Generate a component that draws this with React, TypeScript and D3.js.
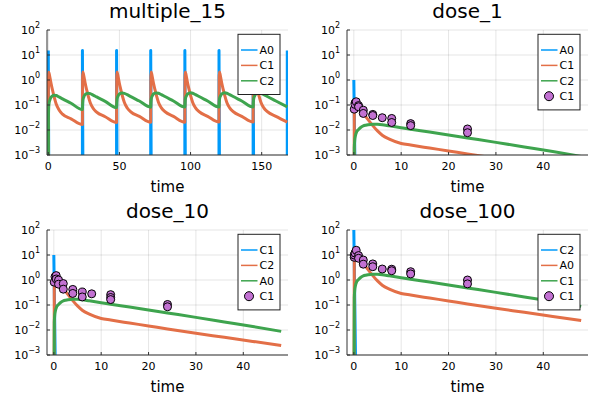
import React, { FC } from 'react'
import * as d3 from 'd3'

const BLUE = '#009AFA'
const ORANGE = '#E36F47'
const GREEN = '#3EA44E'
const PURPLE = '#C271D2'
const FONT = 'DejaVu Sans'

// y axis: decades from 10^-3 to 10^2
const yExponents = [2, 1, 0, -1, -2, -3]
const multiTicks = [0, 50, 100, 150]
const doseTicks = [0, 10, 20, 30, 40]

// ---- multiple_15 ----
const multiA0Time = [
	0, 0.07, 0.14, 0.21, 0.28, 0.35,
	23.99, 24, 24.07, 24.14, 24.21, 24.28, 24.35,
	47.99, 48, 48.07, 48.14, 48.21, 48.28, 48.35,
	71.99, 72, 72.07, 72.14, 72.21, 72.28, 72.35,
	95.99, 96, 96.07, 96.14, 96.21, 96.28, 96.35,
	119.99, 120, 120.07, 120.14, 120.21, 120.28, 120.35,
	143.99, 144, 144.07, 144.14, 144.21, 144.28, 144.35,
	167.99, 168
]
const multiA0 = [
	15, 1.5, 0.15, 0.015, 0.0015, 0.00015,
	1e-9, 15, 1.5, 0.15, 0.015, 0.0015, 0.00015,
	1e-9, 15, 1.5, 0.15, 0.015, 0.0015, 0.00015,
	1e-9, 15, 1.5, 0.15, 0.015, 0.0015, 0.00015,
	1e-9, 15, 1.5, 0.15, 0.015, 0.0015, 0.00015,
	1e-9, 15, 1.5, 0.15, 0.015, 0.0015, 0.00015,
	1e-9, 15, 1.5, 0.15, 0.015, 0.0015, 0.00015,
	1e-9, 15
]
const multiTime = [
	0, 0.1, 0.3, 0.6, 1, 1.5, 2, 3, 4, 5.5, 7.5, 10, 16, 24,
	24.1, 24.3, 24.6, 25, 25.5, 26, 27, 28, 29.5, 31.5, 34, 40, 48,
	48.1, 48.3, 48.6, 49, 49.5, 50, 51, 52, 53.5, 55.5, 58, 64, 72,
	72.1, 72.3, 72.6, 73, 73.5, 74, 75, 76, 77.5, 79.5, 82, 88, 96,
	96.1, 96.3, 96.6, 97, 97.5, 98, 99, 100, 101.5, 103.5, 106, 112, 120,
	120.1, 120.3, 120.6, 121, 121.5, 122, 123, 124, 125.5, 127.5, 130, 136, 144,
	144.1, 144.3, 144.6, 145, 145.5, 146, 147, 148, 149.5, 151.5, 154, 160, 168
]
const multiC1 = [
	1e-9, 1.2, 2.05, 1.8, 1.42, 0.99, 0.7, 0.39, 0.225, 0.112, 0.064, 0.043, 0.028, 0.0165,
	1.22, 2.07, 1.82, 1.44, 1.01, 0.715, 0.4, 0.237, 0.124, 0.074, 0.052, 0.034, 0.0199,
	1.22, 2.07, 1.82, 1.44, 1.01, 0.72, 0.41, 0.24, 0.126, 0.076, 0.053, 0.035, 0.0204,
	1.22, 2.07, 1.82, 1.44, 1.01, 0.72, 0.41, 0.241, 0.127, 0.077, 0.054, 0.035, 0.0206,
	1.22, 2.07, 1.82, 1.44, 1.01, 0.72, 0.41, 0.241, 0.127, 0.077, 0.054, 0.035, 0.0207,
	1.22, 2.07, 1.82, 1.44, 1.01, 0.72, 0.41, 0.241, 0.127, 0.077, 0.054, 0.035, 0.0207,
	1.22, 2.07, 1.82, 1.44, 1.01, 0.72, 0.41, 0.241, 0.127, 0.077, 0.054, 0.035, 0.0208
]
const multiC2 = [
	1e-9, 0.03, 0.08, 0.122, 0.15, 0.183, 0.207, 0.232, 0.243, 0.238, 0.21, 0.176, 0.117, 0.066,
	0.096, 0.145, 0.185, 0.212, 0.243, 0.265, 0.286, 0.294, 0.284, 0.25, 0.21, 0.14, 0.079,
	0.109, 0.158, 0.198, 0.224, 0.255, 0.277, 0.297, 0.303, 0.293, 0.258, 0.216, 0.144, 0.082,
	0.111, 0.16, 0.2, 0.226, 0.257, 0.279, 0.299, 0.305, 0.295, 0.26, 0.218, 0.145, 0.083,
	0.112, 0.161, 0.201, 0.227, 0.258, 0.279, 0.3, 0.306, 0.295, 0.26, 0.218, 0.145, 0.083,
	0.112, 0.161, 0.201, 0.227, 0.258, 0.279, 0.3, 0.306, 0.295, 0.26, 0.218, 0.145, 0.083,
	0.112, 0.161, 0.201, 0.227, 0.258, 0.279, 0.3, 0.306, 0.295, 0.26, 0.218, 0.145, 0.084
]

// ---- single doses ----
const spikeTime = [0, 0.07, 0.14, 0.21, 0.28, 0.35, 0.42, 0.49, 48]
const dose1Spike = [1, 0.1, 0.01, 0.001, 1e-4, 1e-5, 1e-6, 1e-7, 1e-20]
const dose10Spike = [10, 1, 0.1, 0.01, 0.001, 1e-4, 1e-5, 1e-6, 1e-20]
const dose100Spike = [100, 10, 1, 0.1, 0.01, 0.001, 1e-4, 1e-5, 1e-20]

const doseTime = [0, 0.1, 0.2, 0.35, 0.6, 1, 1.5, 2, 2.5, 3, 4, 5, 6, 7.5, 10, 12, 16, 20, 24, 30, 36, 42, 48]
const dose1Fast = [1e-10, 0.08, 0.12, 0.14, 0.125, 0.095, 0.066, 0.047, 0.034, 0.026, 0.015, 0.0092, 0.0062, 0.0043, 0.0029, 0.0025, 0.0019, 0.00145, 0.0011, 0.00074, 0.00051, 0.00035, 0.00024]
const dose1Slow = [1e-10, 0.002, 0.004, 0.006, 0.0085, 0.0105, 0.0128, 0.0145, 0.0155, 0.0162, 0.017, 0.0169, 0.0163, 0.0147, 0.0124, 0.0108, 0.0083, 0.0063, 0.0048, 0.0032, 0.0021, 0.00138, 0.00088]
const dose10Fast = [1e-9, 0.8, 1.2, 1.4, 1.25, 0.95, 0.66, 0.47, 0.34, 0.26, 0.15, 0.092, 0.062, 0.043, 0.029, 0.025, 0.019, 0.0145, 0.011, 0.0074, 0.0051, 0.0035, 0.0024]
const dose10Slow = [1e-9, 0.02, 0.04, 0.06, 0.085, 0.105, 0.128, 0.145, 0.155, 0.162, 0.17, 0.169, 0.163, 0.147, 0.124, 0.108, 0.083, 0.063, 0.048, 0.032, 0.021, 0.0138, 0.0088]
const dose100Fast = [1e-8, 8, 12, 14, 12.5, 9.5, 6.6, 4.7, 3.4, 2.6, 1.5, 0.92, 0.62, 0.43, 0.29, 0.25, 0.19, 0.145, 0.11, 0.074, 0.051, 0.035, 0.024]
const dose100Slow = [1e-8, 0.2, 0.4, 0.6, 0.85, 1.05, 1.28, 1.45, 1.55, 1.62, 1.7, 1.69, 1.63, 1.47, 1.24, 1.08, 0.83, 0.63, 0.48, 0.32, 0.21, 0.138, 0.088]

// observations
const obs1Time = [0.08, 0.25, 0.25, 0.5, 1, 1, 2, 2, 4, 4, 6, 8, 8, 12, 12, 24, 24]
const obs1 = [0.068, 0.12, 0.105, 0.135, 0.095, 0.085, 0.062, 0.046, 0.042, 0.038, 0.031, 0.029, 0.02, 0.018, 0.015, 0.011, 0.0078]
const obs10Time = [0.08, 0.25, 0.5, 0.5, 1, 1, 2, 2, 4, 4, 6, 6, 8, 12, 12, 12, 24, 24]
const obs10 = [0.82, 1.35, 1.5, 1.1, 1.0, 0.68, 0.72, 0.43, 0.42, 0.29, 0.33, 0.21, 0.28, 0.26, 0.2, 0.165, 0.105, 0.085]
const obs100Time = [0.08, 0.08, 0.25, 0.5, 1, 1, 2, 2, 4, 4, 6, 8, 8, 12, 12, 24, 24]
const obs100 = [8.1, 10, 12, 15.5, 9.5, 7.4, 6.3, 4.3, 4.4, 3.4, 2.75, 2.7, 2.35, 2.15, 1.75, 1.0, 0.7]

interface ISeries {
	t: number[]
	v: number[]
	color: string
	smooth?: boolean
}

interface ILegend {
	label: string
	color: string
	dot?: boolean
}

interface IPanelProps {
	id: string
	left: number
	top: number
	title: string
	xDomain: [number, number]
	xTicks: number[]
	lines: ISeries[]
	obs?: { t: number[]; v: number[] }
	legend: ILegend[]
}

const W = 241
const H = 125

const Panel: FC<IPanelProps> = ({ id, left, top, title, xDomain, xTicks, lines, obs, legend }) => {
	const x = d3.scaleLinear().domain(xDomain).range([0, W])
	const y = d3.scaleLog().domain([1e-3, 1e2]).range([H, 0])
	const lx = W - 50
	const lh = 14 + legend.length * 15.4

	return (
		<g transform={`translate(${left},${top})`}>
			<defs>
				<clipPath id={id}>
					<rect x={0} y={0} width={W} height={H} />
				</clipPath>
			</defs>
			{/* grid */}
			{yExponents.map((e) => (
				<line key={'gy' + e} x1={0} x2={W} y1={y(10 ** e)} y2={y(10 ** e)} stroke="#000" strokeOpacity={0.1} />
			))}
			{xTicks.map((t) => (
				<line key={'gx' + t} x1={x(t)} x2={x(t)} y1={0} y2={H} stroke="#000" strokeOpacity={0.1} />
			))}
			{/* lines */}
			<g clipPath={`url(#${id})`}>
				{lines.map((s, k) => {
					const gen = d3
						.line<number>()
						.x((_, i) => x(s.t[i]))
						.y((d) => y(d))
						.curve(s.smooth ? d3.curveMonotoneX : d3.curveLinear)
					return <path key={k} d={gen(s.v) || ''} fill="none" stroke={s.color} strokeWidth={3} strokeLinejoin="round" />
				})}
			</g>
			{obs &&
				obs.v.map((v, i) => (
					<circle key={'o' + i} cx={x(obs.t[i])} cy={y(v)} r={4} fill={PURPLE} stroke="#000" strokeWidth={1} />
				))}
			{/* axes */}
			<line x1={0} x2={0} y1={0} y2={H} stroke="#333" />
			<line x1={0} x2={W} y1={H} y2={H} stroke="#333" />
			{yExponents.map((e) => (
				<g key={'ty' + e}>
					<line x1={0} x2={3} y1={y(10 ** e)} y2={y(10 ** e)} stroke="#333" />
					<text x={-7} y={y(10 ** e) + 4} textAnchor="end" fontSize={11} fontFamily={FONT}>
						10
						<tspan dy={-6} fontSize={8}>
							{e < 0 ? '\u2212' + -e : e}
						</tspan>
					</text>
				</g>
			))}
			{xTicks.map((t) => (
				<g key={'tx' + t}>
					<line x1={x(t)} x2={x(t)} y1={H} y2={H - 3} stroke="#333" />
					<text x={x(t)} y={H + 15} textAnchor="middle" fontSize={11} fontFamily={FONT}>
						{t}
					</text>
				</g>
			))}
			<text x={W / 2} y={-12} textAnchor="middle" fontSize={20} fontFamily={FONT}>
				{title}
			</text>
			<text x={W / 2} y={H + 37} textAnchor="middle" fontSize={15} fontFamily={FONT}>
				time
			</text>
			{/* legend */}
			<rect x={lx} y={4.3} width={42} height={lh} fill="#fff" stroke="#222" />
			{legend.map((l, i) => {
				const ly = 20 + i * 15.4
				return (
					<g key={'l' + i}>
						{l.dot ? (
							<circle cx={lx + 11} cy={ly} r={4.5} fill={l.color} stroke="#000" />
						) : (
							<line x1={lx + 3} x2={lx + 19.5} y1={ly} y2={ly} stroke={l.color} strokeWidth={1.5} />
						)}
						<text x={lx + 21.5} y={ly + 4} fontSize={11} fontFamily={FONT}>
							{l.label}
						</text>
					</g>
				)
			})}
		</g>
	)
}

const App: FC = () => {
	const doseDomain: [number, number] = [-1.44, 49.44]
	return (
		<svg width={600} height={400} style={{ position: 'fixed', left: 0, top: 0, background: '#fff' }}>
			<rect width={600} height={400} fill="#fff" />
			<Panel
				id="c1"
				left={47}
				top={30}
				title="multiple_15"
				xDomain={[-0.9, 168.5]}
				xTicks={multiTicks}
				lines={[
					{ t: multiA0Time, v: multiA0, color: BLUE },
					{ t: multiTime, v: multiC1, color: ORANGE, smooth: true },
					{ t: multiTime, v: multiC2, color: GREEN, smooth: true }
				]}
				legend={[
					{ label: 'A0', color: BLUE },
					{ label: 'C1', color: ORANGE },
					{ label: 'C2', color: GREEN }
				]}
			/>
			<Panel
				id="c2"
				left={347}
				top={30}
				title="dose_1"
				xDomain={doseDomain}
				xTicks={doseTicks}
				lines={[
					{ t: spikeTime, v: dose1Spike, color: BLUE },
					{ t: doseTime, v: dose1Fast, color: ORANGE, smooth: true },
					{ t: doseTime, v: dose1Slow, color: GREEN, smooth: true }
				]}
				obs={{ t: obs1Time, v: obs1 }}
				legend={[
					{ label: 'A0', color: BLUE },
					{ label: 'C1', color: ORANGE },
					{ label: 'C2', color: GREEN },
					{ label: 'C1', color: PURPLE, dot: true }
				]}
			/>
			<Panel
				id="c3"
				left={47}
				top={230}
				title="dose_10"
				xDomain={doseDomain}
				xTicks={doseTicks}
				lines={[
					{ t: spikeTime, v: dose10Spike, color: BLUE },
					{ t: doseTime, v: dose10Fast, color: ORANGE, smooth: true },
					{ t: doseTime, v: dose10Slow, color: GREEN, smooth: true }
				]}
				obs={{ t: obs10Time, v: obs10 }}
				legend={[
					{ label: 'C1', color: BLUE },
					{ label: 'C2', color: ORANGE },
					{ label: 'A0', color: GREEN },
					{ label: 'C1', color: PURPLE, dot: true }
				]}
			/>
			<Panel
				id="c4"
				left={347}
				top={230}
				title="dose_100"
				xDomain={doseDomain}
				xTicks={doseTicks}
				lines={[
					{ t: spikeTime, v: dose100Spike, color: BLUE },
					{ t: doseTime, v: dose100Fast, color: ORANGE, smooth: true },
					{ t: doseTime, v: dose100Slow, color: GREEN, smooth: true }
				]}
				obs={{ t: obs100Time, v: obs100 }}
				legend={[
					{ label: 'C2', color: BLUE },
					{ label: 'A0', color: ORANGE },
					{ label: 'C1', color: GREEN },
					{ label: 'C1', color: PURPLE, dot: true }
				]}
			/>
		</svg>
	)
}

export default App
